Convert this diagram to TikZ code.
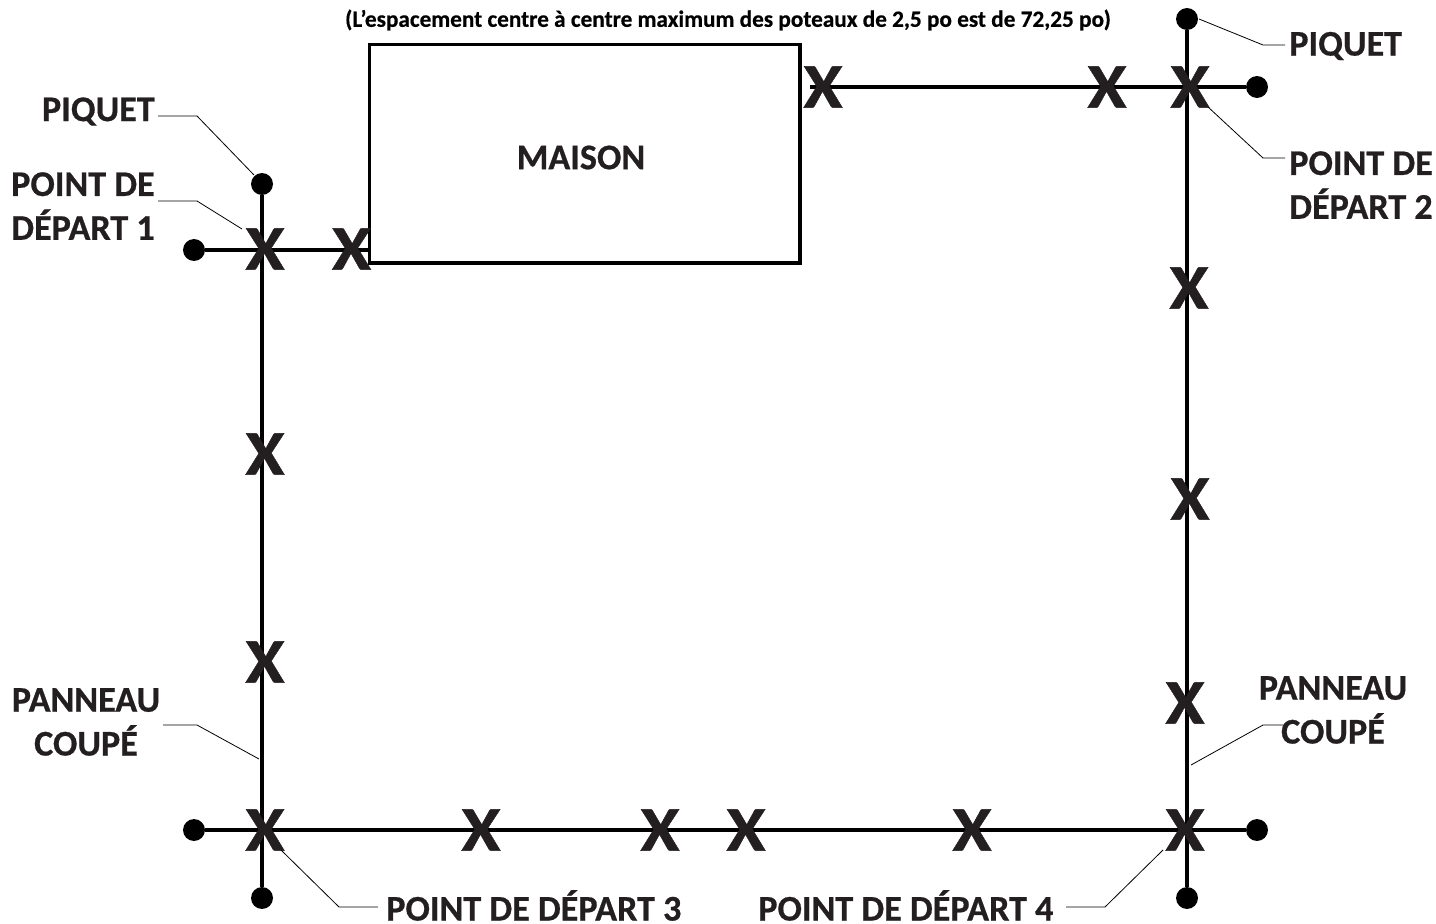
\documentclass[tikz,border=0pt]{standalone}
\usepackage{fontspec}
\setmainfont{Carlito}[BoldFeatures={FakeBold=0.6}]
\definecolor{xcol}{HTML}{231F20}
\definecolor{labcol}{HTML}{231F20}
\tikzset{x=0.0264583cm,y=-0.0264583cm,
 fencew/.style={line width=2.5pt,draw=black},
 dot/.style={circle,fill=black,inner sep=0pt,minimum size=16.5pt},
 xmark/.style={inner sep=0pt,text=xcol,font=\bfseries\fontsize{48}{48}\selectfont},
 lab/.style={inner sep=0pt,text=labcol,font=\bfseries\fontsize{27.2}{33}\selectfont,align=center},
 leader/.style={line width=0.6pt,draw=black}}
\begin{document}
\begin{tikzpicture}
\useasboundingbox (0,0) rectangle (1436,923);
\node[dot] (d1) at (262,184) {};
\node[dot] (d2) at (194,250) {};
\node[dot] (d3) at (1187,19) {};
\node[dot] (d4) at (1257,87) {};
\node[dot] (d5) at (194,830) {};
\node[dot] (d6) at (262,898) {};
\node[dot] (d7) at (1257,830) {};
\node[dot] (d8) at (1187,898) {};
\node[draw=black,line width=2.5pt,inner sep=0pt,minimum width=324pt,minimum height=164.25pt,anchor=north west] (house) at (368,43) {};
\coordinate (hl) at (368,250);
\coordinate (hr) at (810,87);
\draw[fencew] (d1) -- (d6);
\draw[fencew] (d3) -- (d8);
\draw[fencew] (d5) -- (d7);
\draw[fencew] (d2) -- (hl);
\draw[fencew] (hr) -- (d4);
\node[lab] (maison) at (581,157.5) {MAISON};
\foreach \n/\x/\y in {a/265/249,b/351.5/249,c/265/454,d/265/662,e/265/830,f/481/830,g/660/830,h/746/830,i/972/830,j/1185/830,k/1185/703,l/1190/499,m/1189/288,n/1190/87,o/1107/87,q/823/87}
  \node[xmark] (x\n) at (\x,\y) {\scalebox{1.12}[1]{X}};
\node[lab,anchor=east] (l1) at (155,111.5) {PIQUET};
\node[lab,anchor=west] (l2) at (1289,46) {PIQUET};
\node[lab,align=right,anchor=east] (l3) at (155,206) {POINT DE\\DÉPART 1};
\node[lab,align=left,anchor=west] (l4) at (1289,185) {POINT DE\\DÉPART 2};
\node[lab] (l5) at (86,722) {PANNEAU\\COUPÉ};
\node[lab] (l6) at (1333,710) {PANNEAU\\COUPÉ};
\node[lab,anchor=west] (l7) at (386,905.5) {POINT DE DÉPART 3};
\node[lab,anchor=west] (l8) at (758,905.5) {POINT DE DÉPART 4};
\node[inner sep=0pt,text=black,font=\bfseries\fontsize{17.5}{17.5}\selectfont] (t2) at (728,20) {(L’espacement centre à centre maximum des poteaux de 2,5 po est de 72,25 po)};
\coordinate (e1) at (158,116); \coordinate (e2) at (197,116); \coordinate (e3) at (254,175);
\draw[leader] (e1) -- (e2) -- (e3);
\coordinate (f1) at (158,201); \coordinate (f2) at (197,201); \coordinate (f3) at (242,229);
\draw[leader] (f1) -- (f2) -- (f3);
\coordinate (g1) at (1285,45); \coordinate (g2) at (1263,45); \coordinate (g3) at (1199,19);
\draw[leader] (g1) -- (g2) -- (g3);
\coordinate (h1) at (1285,158); \coordinate (h2) at (1263,158); \coordinate (h3) at (1208,107);
\draw[leader] (h1) -- (h2) -- (h3);
\coordinate (i1) at (163,725); \coordinate (i2) at (197,725); \coordinate (i3) at (259,759);
\draw[leader] (i1) -- (i2) -- (i3);
\coordinate (j1) at (1284,725); \coordinate (j2) at (1263,725); \coordinate (j3) at (1191,765);
\draw[leader] (j1) -- (j2) -- (j3);
\coordinate (k1) at (378,907); \coordinate (k2) at (339,907); \coordinate (k3) at (281,850);
\draw[leader] (k1) -- (k2) -- (k3);
\coordinate (m1) at (1066,907); \coordinate (m2) at (1105,907); \coordinate (m3) at (1163,850);
\draw[leader] (m1) -- (m2) -- (m3);
\end{tikzpicture}
\end{document}
